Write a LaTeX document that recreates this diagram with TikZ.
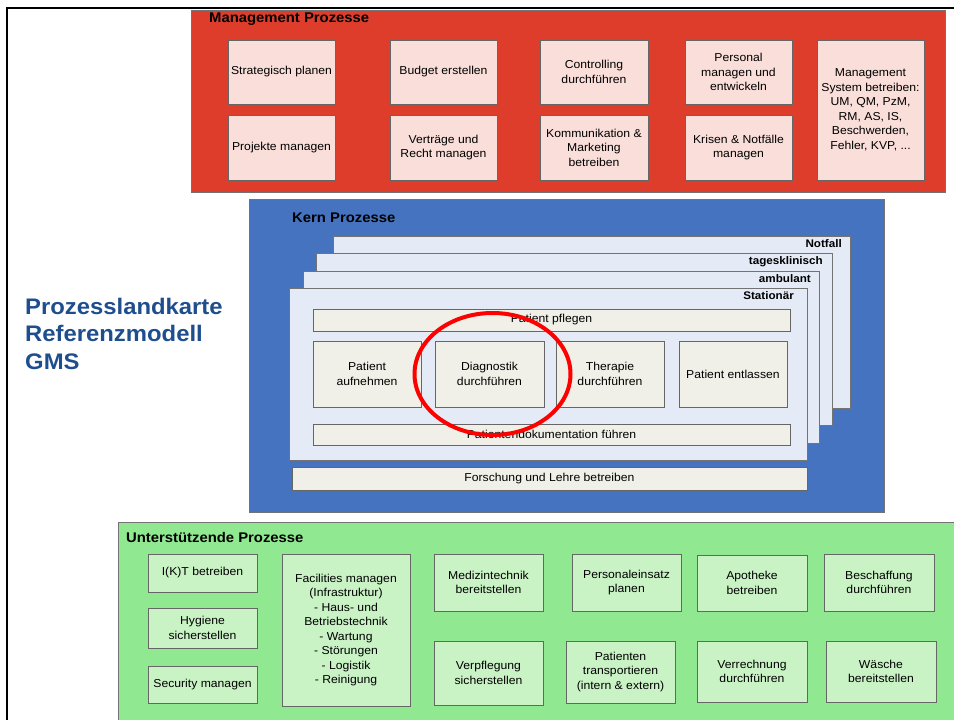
\documentclass[tikz,border=0pt]{standalone}
\usepackage{fontspec}
\setmainfont[FakeStretch=1.06]{Liberation Sans}
\usetikzlibrary{positioning}
\definecolor{mgtred}{HTML}{DE3D2B}
\definecolor{mgtpink}{HTML}{F9DED9}
\definecolor{kernblue}{HTML}{4573C0}
\definecolor{pageblue}{HTML}{E4EBF7}
\definecolor{kernbeige}{HTML}{F0F0E8}
\definecolor{supgreen}{HTML}{90E890}
\definecolor{supbox}{HTML}{C9F2C5}
\definecolor{titleblue}{HTML}{1F4E8F}

\begin{document}
\begin{tikzpicture}[x=1pt,y=-1pt,
    proc/.style 2 args={draw=black!60, line width=.7, minimum width=#1, minimum height=#2,
        align=center, inner sep=1pt, font=\fontsize{11.5}{14.5}\selectfont},
    frame/.style={draw=black!55, line width=.7},
    grptitle/.style={anchor=west, inner sep=0pt, font=\fontsize{14}{16}\bfseries\selectfont},
    pagetitle/.style={anchor=east, inner sep=0pt, font=\fontsize{11}{13}\bfseries\selectfont}]
\useasboundingbox (0,0) rectangle (954,720);
\clip (0,0) rectangle (954,720);
% border of the slide
\draw[line width=2.5] (7,724) -- (7,8) -- (958,8);
\node[anchor=base west, inner sep=0pt, align=left, text=titleblue,
    font=\fontsize{22.5}{27.5}\bfseries\selectfont] (maptitle) at (25,369)
    {Prozesslandkarte\\Referenzmodell\\GMS};

% Management Prozesse
\draw[frame, fill=mgtred] (191,10) rectangle (945,192);
\node[grptitle] (mgttitle) at (209,19.5) {Management Prozesse};
\begin{scope}[every node/.append style={fill=mgtpink}]
\node[proc={107}{64}] (strat) at (281.5,72) {Strategisch planen};
\node[proc={107}{64}] (budget) at (443.5,72) {Budget erstellen};
\node[proc={108}{64}] (control) at (594,72) {Controlling\\durchführen};
\node[proc={107}{64}] (personal) at (738.5,72) {Personal\\managen und\\entwickeln};
\node[proc={107}{65}] (projekte) at (281.5,147.5) {Projekte managen};
\node[proc={107}{65}] (vertrag) at (443.5,147.5) {Verträge und\\Recht managen};
\node[proc={108}{65}] (kommu) at (594,147.5) {Kommunikation \&\\Marketing\\betreiben};
\node[proc={107}{65}] (krisen) at (738.5,147.5) {Krisen \& Notfälle\\managen};
\node[proc={107}{140}] (mgtsys) at (870.5,110) {Management\\System betreiben:\\UM, QM, PzM,\\RM, AS, IS,\\Beschwerden,\\Fehler, KVP, ...};
\end{scope}

% Kern Prozesse
\draw[frame, fill=kernblue] (249,199) rectangle (884,512);
\node[grptitle] (kerntitle) at (292,218) {Kern Prozesse};
\draw[frame, fill=pageblue] (333,236) rectangle (850,408);
\node[pagetitle] (notfall) at (842,244) {Notfall};
\draw[frame, fill=pageblue] (316,253) rectangle (832,425);
\node[pagetitle] (tages) at (823,262) {tagesklinisch};
\draw[frame, fill=pageblue] (303,271) rectangle (819,443);
\node[pagetitle] (ambulant) at (811,279) {ambulant};
\draw[frame, fill=pageblue] (289,288) rectangle (807,460);
\node[pagetitle] (station) at (794,296) {Stationär};
\begin{scope}[every node/.append style={fill=kernbeige}]
\node[proc={477}{22}] (pflegen) at (551.5,320) {Patient pflegen};
\node[proc={108}{66}] (aufnahme) at (367,374) {Patient\\aufnehmen};
\node[proc={109}{66}] (diagnose) at (489.5,374) {Diagnostik\\durchführen};
\node[proc={108}{66}] (therapie) at (610,374) {Therapie\\durchführen};
\node[proc={108}{66}] (entlassen) at (733,374) {Patient entlassen};
\node[proc={477}{21}] (doku) at (551.5,434.5) {Patientendokumentation führen};
\node[proc={515}{23}] (forschung) at (549.5,478.5) {Forschung und Lehre betreiben};
\end{scope}
\draw[red, line width=4] (492.5,374) ellipse [x radius=78, y radius=61];

% Unterstuetzende Prozesse
\draw[frame, fill=supgreen] (118,522) rectangle (960,726);
\node[grptitle] (suptitle) at (126,537) {Unterstützende Prozesse};
\begin{scope}[every node/.append style={fill=supbox}]
\node[proc={109}{38}] (ikt) at (202.5,573) {I(K)T betreiben};
\node[proc={109}{40}] (hygiene) at (202.5,628) {Hygiene\\sicherstellen};
\node[proc={109}{37}] (security) at (202.5,684.5) {Security managen};
\node[proc={128}{152}] (facility) at (346,630) {Facilities managen\\(Infrastruktur)\\- Haus- und\\Betriebstechnik\\- Wartung\\- Störungen\\- Logistik\\- Reinigung};
\node[proc={109}{57}] (medtech) at (488.5,582.5) {Medizintechnik\\bereitstellen};
\node[proc={109}{64}] (verpfl) at (488.5,673) {Verpflegung\\sicherstellen};
\node[proc={109}{57}] (einsatz) at (626.5,582.5) {Personaleinsatz\\planen};
\node[proc={110}{56}] (apotheke) at (752,583) {Apotheke\\betreiben};
\node[proc={110}{57}] (beschaff) at (879,582.5) {Beschaffung\\durchführen};
\node[proc={109}{62}] (transport) at (620.5,672) {Patienten\\transportieren\\(intern \& extern)};
\node[proc={110}{61}] (verrech) at (752,671.5) {Verrechnung\\durchführen};
\node[proc={110}{61}] (waesche) at (881,671.5) {Wäsche\\bereitstellen};
\end{scope}
\end{tikzpicture}
\end{document}
